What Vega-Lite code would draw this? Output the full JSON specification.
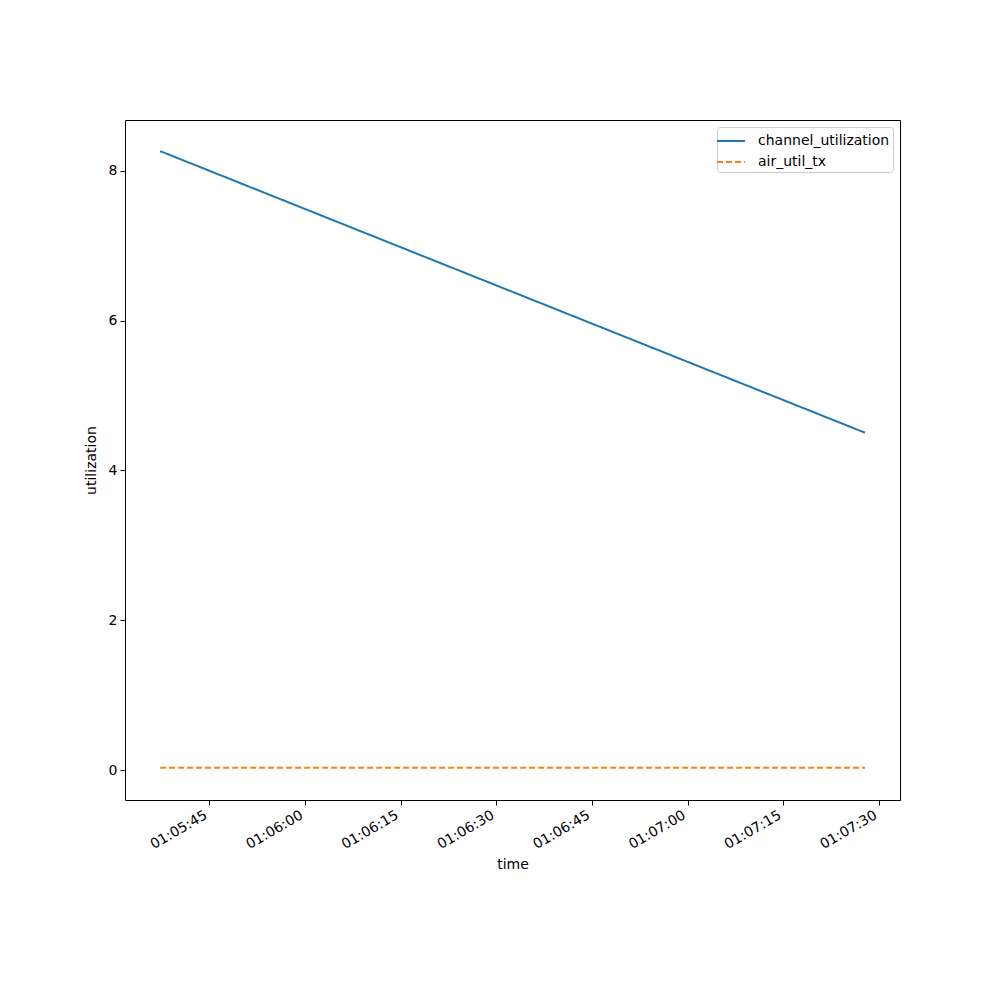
{
  "$schema": "https://vega.github.io/schema/vega-lite/v6.json",
  "autosize": {"type": "none"},
  "padding": {"left": 125, "top": 120, "right": 100, "bottom": 200},
  "width": 775,
  "height": 680,
  "background": "white",
  "config": {
    "font": "DejaVu Sans",
    "view": {"stroke": "black", "strokeWidth": 1},
    "axis": {
      "grid": false,
      "domain": false,
      "tickColor": "black",
      "tickSize": 5,
      "labelColor": "black",
      "labelFontSize": 14,
      "labelFont": "DejaVu Sans",
      "titleFont": "DejaVu Sans",
      "titleFontSize": 14,
      "titleFontWeight": "normal",
      "titleColor": "black",
      "labelPadding": 3
    }
  },
  "data": {
    "values": [
      {"time": 1704071137300, "series": "channel_utilization", "value": 8.265},
      {"time": 1704071247800, "series": "channel_utilization", "value": 4.505},
      {"time": 1704071137300, "series": "air_util_tx", "value": 0.03},
      {"time": 1704071247800, "series": "air_util_tx", "value": 0.03}
    ]
  },
  "mark": {"type": "line", "strokeWidth": 2},
  "encoding": {
    "x": {
      "field": "time",
      "type": "temporal",
      "title": "time",
      "scale": {
        "type": "utc",
        "nice": false,
        "domain": [1704071131800, 1704071253300]
      },
      "axis": {
        "format": "%H:%M:%S",
        "values": [1704071145000, 1704071160000, 1704071175000, 1704071190000, 1704071205000, 1704071220000, 1704071235000, 1704071250000],
        "labelAngle": -30,
        "labelAlign": "right",
        "labelBaseline": "bottom",
        "labelPadding": 15,
        "titlePadding": 6
      }
    },
    "y": {
      "field": "value",
      "type": "quantitative",
      "title": "utilization",
      "scale": {"domain": [-0.40, 8.68], "nice": false, "zero": false},
      "axis": {"values": [0, 2, 4, 6, 8], "titlePadding": 10}
    },
    "color": {
      "field": "series",
      "type": "nominal",
      "scale": {"domain": ["channel_utilization", "air_util_tx"], "range": ["#1f77b4", "#ff7f0e"]},
      "legend": {
        "title": null,
        "orient": "top-right",
        "offset": 7,
        "symbolType": "M-1.4,0L1.4,0",
        "symbolSize": 400,
        "symbolStrokeWidth": 2,
        "labelFontSize": 14,
        "labelFont": "DejaVu Sans",
        "labelColor": "black",
        "strokeColor": "#cccccc",
        "fillColor": "white",
        "cornerRadius": 3,
        "padding": 3,
        "rowPadding": 3,
        "labelOffset": 16
      }
    },
    "strokeDash": {
      "field": "series",
      "type": "nominal",
      "scale": {"domain": ["channel_utilization", "air_util_tx"], "range": [[1, 0], [6, 3]]},
      "legend": null
    }
  }
}
